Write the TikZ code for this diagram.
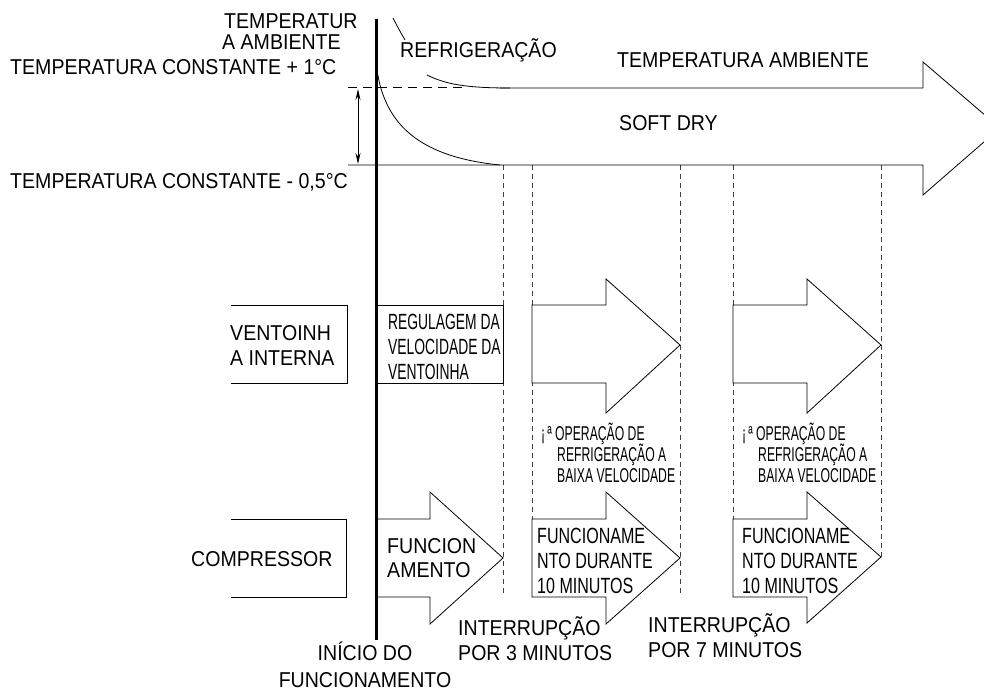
\documentclass[tikz,border=0pt]{standalone}
\usepackage{fontspec}
\usepackage{graphicx}
\setmainfont{Liberation Sans}
\newcommand\txtM[1]{\scalebox{0.91}[1]{#1}}
\newcommand\txtR[1]{\scalebox{0.63}[1]{#1}}
\newcommand\txtO[1]{\scalebox{0.61}[1]{#1}}
\newcommand\txtF[1]{\scalebox{0.73}[1]{#1}}
\usetikzlibrary{arrows.meta}
\begin{document}
\begin{tikzpicture}[x=1pt,y=-1pt,
  thin line/.style={line width=0.8pt,black},
  guide/.style={line width=0.7pt,black!75,dash pattern=on 5pt off 4pt},
  lbl/.style={anchor=base west,inner sep=0pt,font=\fontsize{21.5}{24}\selectfont},
  lblA/.style={anchor=base west,inner sep=0pt,font=\fontsize{22}{24}\selectfont},
  lblB/.style={anchor=base west,inner sep=0pt,font=\fontsize{20}{22}\selectfont},
  lblC/.style={anchor=base west,inner sep=0pt,font=\fontsize{22}{24}\selectfont}]
\useasboundingbox (0,0) rectangle (984,690);
% guide dashed verticals
\foreach \gx/\gy in {503/597,532/597,680/597,733/597,881/557}
  \draw[guide] (\gx,165) -- (\gx,\gy);
% main axis
\coordinate (axtop) at (376,19);
\coordinate (axbot) at (376,640);
\draw[line width=3pt] (axtop) -- (axbot);
% temperature levels
\draw[thin line,dash pattern=on 9pt off 6pt] (348,87) -- (462,87);
\draw[thin line] (500,88) -- (923,88) -- (923,62) -- (1000,128) -- (923,195) -- (923,165) -- (348,165);
% curves
\draw[thin line] (377,70) .. controls (385,125) and (420,157) .. (500,165);
\draw[thin line] (393,18) .. controls (397,26) and (401,33) .. (405,40);
\draw[thin line] (427,75) .. controls (445,84) and (465,88) .. (510,88);
% double arrow
\coordinate (da1) at (358,89);
\coordinate (da2) at (358,164);
\draw[thin line,{Stealth[length=11pt,width=5pt]}-{Stealth[length=11pt,width=5pt]}] (da1) -- (da2);
% fan row
\draw[thin line] (231,305) -- (347,305) -- (347,383) -- (231,383);
\draw[thin line] (376,305) -- (503,305) -- (503,383) -- (376,383);
\draw[thin line,fill=white] (532,305) -- (606,305) -- (606,279) -- (680,345) -- (606,413) -- (606,383) -- (532,383) -- cycle;
\draw[thin line,fill=white] (733,305) -- (807,305) -- (807,279) -- (881,345) -- (807,413) -- (807,383) -- (733,383) -- cycle;
% compressor row
\draw[thin line] (231,519) -- (346,519) -- (346,597) -- (231,597);
\draw[thin line] (376,519) -- (430,519) -- (430,492) -- (503,558) -- (430,624) -- (430,597) -- (376,597);
\draw[thin line,fill=white] (532,519) -- (606,519) -- (606,492) -- (680,558) -- (606,624) -- (606,597) -- (532,597) -- cycle;
\draw[thin line,fill=white] (733,519) -- (807,519) -- (807,492) -- (881,557) -- (807,623) -- (807,597) -- (733,597) -- cycle;
% labels
\node[lbl] (t1) at (224,29) {\txtM{TEMPERATUR}};
\node[lbl] (t2) at (222,50) {\txtM{A AMBIENTE}};
\node[lbl] (t3) at (10,75) {\txtM{TEMPERATURA CONSTANTE + 1°C}};
\node[lbl] (t4) at (10,188) {\txtM{TEMPERATURA CONSTANTE - 0,5°C}};
\node[lbl] (refr) at (400,58) {\txtM{REFRIGERAÇÃO}};
\node[lbl] (tamb) at (617,68) {\txtM{TEMPERATURA AMBIENTE}};
\node[lbl] (soft) at (619,131) {\txtM{SOFT DRY}};
\node[lbl] (v1) at (230,340) {\txtM{VENTOINH}};
\node[lbl] (v2) at (230,365) {\txtM{A INTERNA}};
\node[lblA] (r1) at (388,329) {\txtR{REGULAGEM DA}};
\node[lblA] (r2) at (388,354) {\txtR{VELOCIDADE DA}};
\node[lblA] (r3) at (388,379) {\txtR{VENTOINHA}};
\node[lblB] (o1) at (541,440) {\txtO{¡\,ª OPERAÇÃO DE}};
\node[lblB] (o2) at (557,461) {\txtO{REFRIGERAÇÃO A}};
\node[lblB] (o3) at (557,482) {\txtO{BAIXA VELOCIDADE}};
\node[lblB] (p1) at (742,440) {\txtO{¡\,ª OPERAÇÃO DE}};
\node[lblB] (p2) at (758,461) {\txtO{REFRIGERAÇÃO A}};
\node[lblB] (p3) at (758,482) {\txtO{BAIXA VELOCIDADE}};
\node[lbl] (comp) at (191,566) {\txtM{COMPRESSOR}};
\node[lbl] (f1) at (387,553) {\txtM{FUNCION}};
\node[lbl] (f2) at (387,577) {\txtM{AMENTO}};
\node[lblC] (g1) at (537,543) {\txtF{FUNCIONAME}};
\node[lblC] (g2) at (537,568) {\txtF{NTO DURANTE}};
\node[lblC] (g3) at (537,593) {\txtF{10 MINUTOS}};
\node[lblC] (h1) at (742,543) {\txtF{FUNCIONAME}};
\node[lblC] (h2) at (742,568) {\txtF{NTO DURANTE}};
\node[lblC] (h3) at (742,593) {\txtF{10 MINUTOS}};
\node[lbl] (i1) at (458,635) {\txtM{INTERRUPÇÃO}};
\node[lbl] (i2) at (458,660) {\txtM{POR 3 MINUTOS}};
\node[lbl] (j1) at (648,632) {\txtM{INTERRUPÇÃO}};
\node[lbl] (j2) at (648,657) {\txtM{POR 7 MINUTOS}};
\node[lbl,anchor=base] (s1) at (365,660) {\txtM{INÍCIO DO}};
\node[lbl,anchor=base] (s2) at (365,687) {\txtM{FUNCIONAMENTO}};
\end{tikzpicture}
\end{document}
